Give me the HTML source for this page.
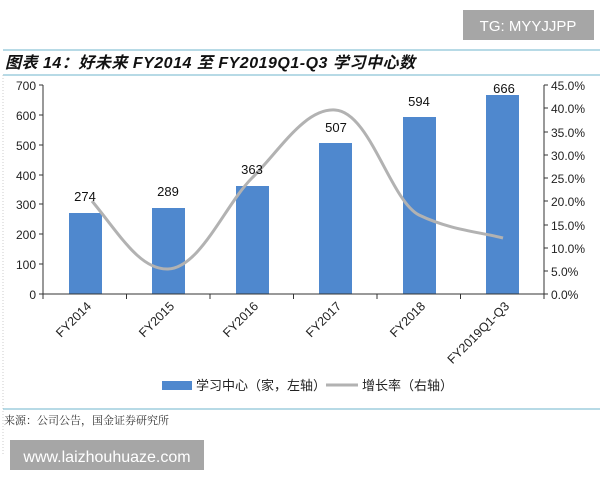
<!DOCTYPE html>
<html><head><meta charset="utf-8"><style>
body{margin:0;background:#fff;width:600px;height:480px;overflow:hidden;font-family:"Liberation Sans","Noto Sans CJK SC",sans-serif}
</style></head><body>
<svg width="600" height="480" xmlns="http://www.w3.org/2000/svg" font-family="Liberation Sans, Noto Sans CJK SC, sans-serif">
<rect x="463" y="10" width="131" height="30" fill="#a6a6a6"/>
<text x="528" y="31" font-size="15" fill="#fff" text-anchor="middle">TG: MYYJJPP</text>
<line x1="3" y1="50" x2="600" y2="50" stroke="#6fb6cc" stroke-width="1"/>
<text x="5" y="68" font-size="16" font-weight="bold" font-style="italic" fill="#111" textLength="410">图表 14：好未来 FY2014 至 FY2019Q1-Q3 学习中心数</text>
<line x1="3" y1="75" x2="600" y2="75" stroke="#6fb6cc" stroke-width="1"/>
<line x1="3" y1="75" x2="3" y2="455" stroke="#ccc" stroke-dasharray="1,2"/>
<g fill="#4f88ce">
<rect x="69" y="213" width="33" height="81"/>
<rect x="152" y="208" width="33" height="86"/>
<rect x="236" y="186" width="33" height="108"/>
<rect x="319" y="143" width="33" height="151"/>
<rect x="403" y="117" width="33" height="177"/>
<rect x="486" y="95" width="33" height="199"/>
</g>
<g stroke="#333" stroke-width="1" fill="none">
<line x1="43" y1="85" x2="43" y2="294"/>
<line x1="544" y1="85" x2="544" y2="294"/>
<line x1="43" y1="294" x2="544" y2="294"/>
<path d="M39 85H43M39 115H43M39 145H43M39 175H43M39 204H43M39 234H43M39 264H43M39 294H43"/>
<path d="M544 85H548M544 108H548M544 132H548M544 155H548M544 178H548M544 201H548M544 225H548M544 248H548M544 271H548M544 294H548"/>
<path d="M43 294V299M126.5 294V299M210 294V299M293.5 294V299M377 294V299M460.5 294V299M544 294V299"/>
</g>
<g font-size="12" fill="#222" text-anchor="end">
<text x="36" y="90">700</text><text x="36" y="120">600</text><text x="36" y="150">500</text><text x="36" y="180">400</text><text x="36" y="209">300</text><text x="36" y="239">200</text><text x="36" y="269">100</text><text x="36" y="299">0</text>
</g>
<g font-size="12" fill="#222">
<text x="551" y="90">45.0%</text><text x="551" y="113">40.0%</text><text x="551" y="137">35.0%</text><text x="551" y="160">30.0%</text><text x="551" y="183">25.0%</text><text x="551" y="206">20.0%</text><text x="551" y="230">15.0%</text><text x="551" y="253">10.0%</text><text x="551" y="276">5.0%</text><text x="551" y="299">0.0%</text>
</g>
<path d="M92 201 C120 235,140 270,168 269 C200 268,225 205,252 178 C280 150,305 108,335 110 C370 112,390 200,419 215 C450 230,480 232,503 238" stroke="#b2b2b2" stroke-width="3" fill="none"/>
<g font-size="13" fill="#111" text-anchor="middle">
<text x="85" y="201">274</text><text x="168" y="196">289</text><text x="252" y="174">363</text><text x="336" y="132">507</text><text x="419" y="106">594</text><text x="504" y="93">666</text>
</g>
<g font-size="12.5" fill="#222" text-anchor="end">
<text transform="translate(92,307) rotate(-45)">FY2014</text>
<text transform="translate(175,307) rotate(-45)">FY2015</text>
<text transform="translate(259,307) rotate(-45)">FY2016</text>
<text transform="translate(342,307) rotate(-45)">FY2017</text>
<text transform="translate(426,307) rotate(-45)">FY2018</text>
<text transform="translate(510,307) rotate(-45)">FY2019Q1-Q3</text>
</g>
<rect x="162" y="381" width="30" height="9" fill="#4f88ce"/>
<text x="196" y="390" font-size="13" fill="#222">学习中心（家，左轴）</text>
<line x1="326" y1="385" x2="358" y2="385" stroke="#b2b2b2" stroke-width="3"/>
<text x="362" y="390" font-size="13" fill="#222">增长率（右轴）</text>
<line x1="3" y1="409" x2="600" y2="409" stroke="#6fb6cc" stroke-width="1"/>
<text x="4" y="424" font-size="11" fill="#333" font-family="Noto Serif CJK SC, serif">来源：公司公告，国金证券研究所</text>
<rect x="10" y="440" width="194" height="30" fill="#a6a6a6"/>
<text x="107" y="462" font-size="16" fill="#fff" text-anchor="middle">www.laizhouhuaze.com</text>
</svg>
</body></html>
